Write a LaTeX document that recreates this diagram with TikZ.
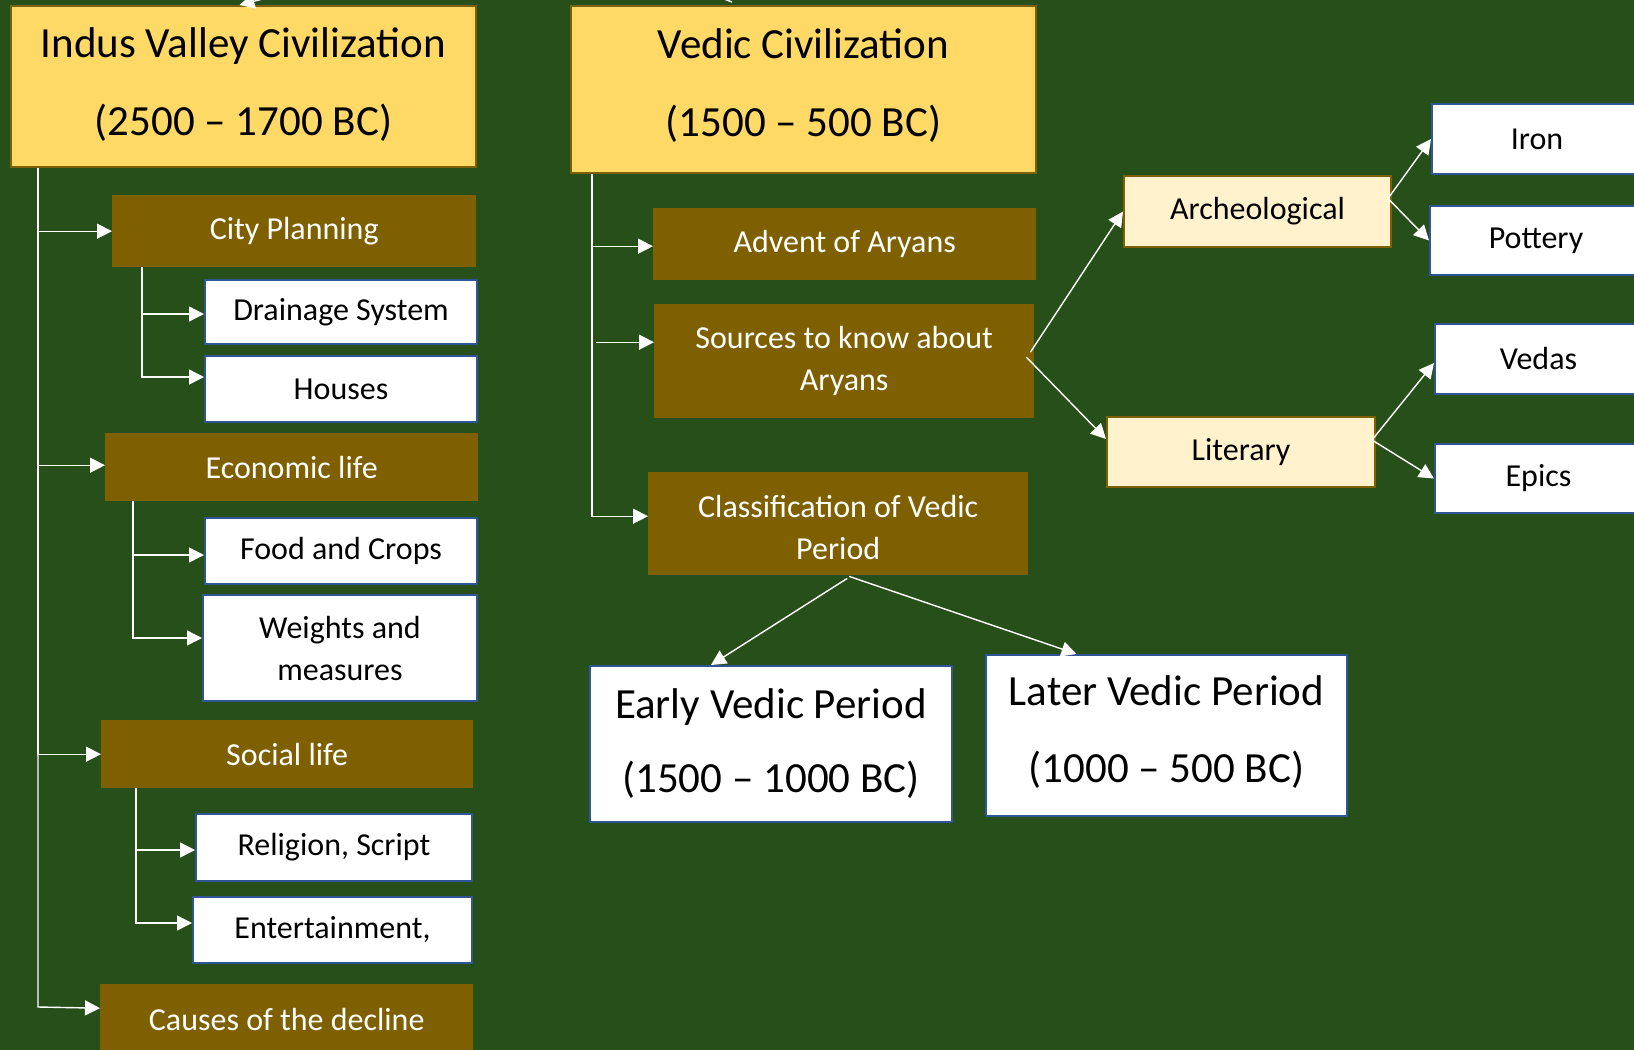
\documentclass[tikz,border=0pt]{standalone}
\usepackage{fontspec}
\setmainfont{Carlito}
\usetikzlibrary{arrows.meta}
\definecolor{bgc}{RGB}{39,79,26}
\definecolor{goldc}{RGB}{255,217,102}
\definecolor{brownc}{RGB}{127,96,0}
\definecolor{lightc}{RGB}{255,242,204}
\definecolor{bluec}{RGB}{47,85,151}
\begin{document}
\begin{tikzpicture}[x=1pt,y=-1pt,
  box/.style={anchor=north west,inner sep=0pt,align=center,rectangle},
  titlebox/.style={box,fill=goldc,draw=brownc,line width=2pt,font=\fontsize{43}{78}\selectfont},
  brownbox/.style={box,fill=brownc,draw=none,text=white,font=\fontsize{32}{42}\selectfont},
  whitebox/.style={box,fill=white,draw=bluec,line width=2pt,font=\fontsize{32}{42}\selectfont},
  periodbox/.style={box,fill=white,draw=bluec,line width=2pt,font=\fontsize{43}{74}\selectfont},
  lightbox/.style={box,fill=lightc,draw=brownc,line width=2pt,font=\fontsize{32}{42}\selectfont},
  conn/.style={draw=white,line width=1.4pt},
  arr/.style={conn,-{Triangle[length=15pt,width=15pt]}}]
\useasboundingbox (0,0) rectangle (1634,1050);
\fill[bgc] (0,0) rectangle (1634,1050);
\clip (0,0) rectangle (1634,1050);

% Indus column
\node[titlebox,minimum width=465pt,minimum height=161pt,text depth=9.6pt] (indus) at (10,5) {Indus Valley Civilization\\(2500 – 1700 BC)};
\node[brownbox,minimum width=364pt,minimum height=72pt] (city) at (112,195) {City Planning};
\node[whitebox,minimum width=272pt,minimum height=64pt] (drain) at (204,279) {Drainage System};
\node[whitebox,minimum width=272pt,minimum height=66pt] (houses) at (204,355) {Houses};
\node[brownbox,minimum width=373pt,minimum height=68pt] (econ) at (105,433) {Economic life};
\node[whitebox,minimum width=272pt,minimum height=66pt] (food) at (204,517) {Food and Crops};
\node[whitebox,minimum width=274pt,minimum height=106pt] (weights) at (202,594) {Weights and\\measures};
\node[brownbox,minimum width=372pt,minimum height=68pt] (social) at (101,720) {Social life};
\node[whitebox,minimum width=276pt,minimum height=67pt] (religion) at (195,813) {Religion, Script};
\node[whitebox,minimum width=279pt,minimum height=66pt] (entert) at (192,896) {Entertainment,};
\node[brownbox,minimum width=373pt,minimum height=70pt] (causes) at (100,984) {Causes of the decline};

% Vedic column
\node[titlebox,minimum width=465pt,minimum height=167pt,text depth=13pt] (vedic) at (570,5) {Vedic Civilization\\(1500 – 500 BC)};
\node[brownbox,minimum width=383pt,minimum height=72pt] (advent) at (653,208) {Advent of Aryans};
\node[brownbox,minimum width=380pt,minimum height=114pt] (src) at (654,304) {Sources to know about\\Aryans};
\node[brownbox,minimum width=380pt,minimum height=103pt] (classif) at (648,472) {\rule{0pt}{29pt}Classification of Vedic\\Period};
\node[periodbox,minimum width=362pt,minimum height=156pt] (early) at (589,665) {Early Vedic Period\\(1500 – 1000 BC)};
\node[periodbox,minimum width=361pt,minimum height=161pt,text depth=12pt] (later) at (985,654) {Later Vedic Period\\[3pt](1000 – 500 BC)};
\node[lightbox,minimum width=267pt,minimum height=71pt] (arch) at (1123,175) {Archeological};
\node[lightbox,minimum width=268pt,minimum height=70pt] (lit) at (1106,416) {Literary};
\node[whitebox,minimum width=210pt,minimum height=70pt] (iron) at (1431,103) {Iron};
\node[whitebox,minimum width=212pt,minimum height=69pt] (pottery) at (1429,205) {Pottery};
\node[whitebox,minimum width=207pt,minimum height=70pt] (vedas) at (1434,323) {Vedas};
\node[whitebox,minimum width=207pt,minimum height=69pt] (epics) at (1434,443) {Epics};

% connectors entering from above the picture
\coordinate (topa) at (305,-12);
\coordinate (topb) at (700,-10);
\draw[arr] (topa) -- ([xshift=-4pt]indus.north);
\draw[conn] (topb) -- (732,2);

% Indus connectors
\draw[arr] ([xshift=28pt]indus.south west) |- (city.west);
\draw[arr] ([xshift=28pt]indus.south west) |- ([yshift=2pt]econ.west);
\draw[arr] ([xshift=28pt]indus.south west) |- (social.west);
\draw[arr] ([xshift=28pt]indus.south west) -- ++(0,839) -- ([yshift=11pt]causes.west);
\draw[arr] ([xshift=30pt]city.south west) |- ([yshift=-2pt]drain.west);
\draw[arr] ([xshift=30pt]city.south west) |- ([yshift=12pt]houses.west);
\draw[arr] ([xshift=28pt]econ.south west) |- ([yshift=-4pt]food.west);
\draw[arr] ([xshift=28pt]econ.south west) |- ([yshift=10pt]weights.west);
\draw[arr] ([xshift=35pt]social.south west) |- ([yshift=-2.5pt]religion.west);
\draw[arr] ([xshift=35pt]social.south west) |- ([yshift=7pt]entert.west);

% Vedic connectors
\draw[arr] ([xshift=22pt]vedic.south west) |- ([yshift=-2pt]advent.west);
\draw[arr] ([xshift=-58pt,yshift=19pt]src.west) -- ([yshift=19pt]src.west);
\draw[arr] ([xshift=22pt]vedic.south west) |- ([yshift=7.5pt]classif.west);
\draw[arr] ([xshift=9pt,yshift=-3pt]classif.south) -- ([xshift=-60pt]early.north);
\draw[arr] ([xshift=11pt,yshift=-1pt]classif.south) -- ([xshift=-90pt]later.north);
\draw[arr] ([xshift=-4pt,yshift=9pt]src.east) -- (arch.west);
\draw[arr] ([xshift=-8pt,yshift=4pt]src.east) -- ([yshift=13pt]lit.west);
\draw[arr] ([xshift=-4pt,yshift=13pt]arch.east) -- (iron.west);
\draw[arr] ([xshift=-4pt,yshift=13pt]arch.east) -- (pottery.west);
\draw[arr] ([xshift=-4pt,yshift=12pt]lit.east) -- ([yshift=-4pt]vedas.west);
\draw[arr] ([xshift=-4pt,yshift=12pt]lit.east) -- (epics.west);
\end{tikzpicture}
\end{document}
